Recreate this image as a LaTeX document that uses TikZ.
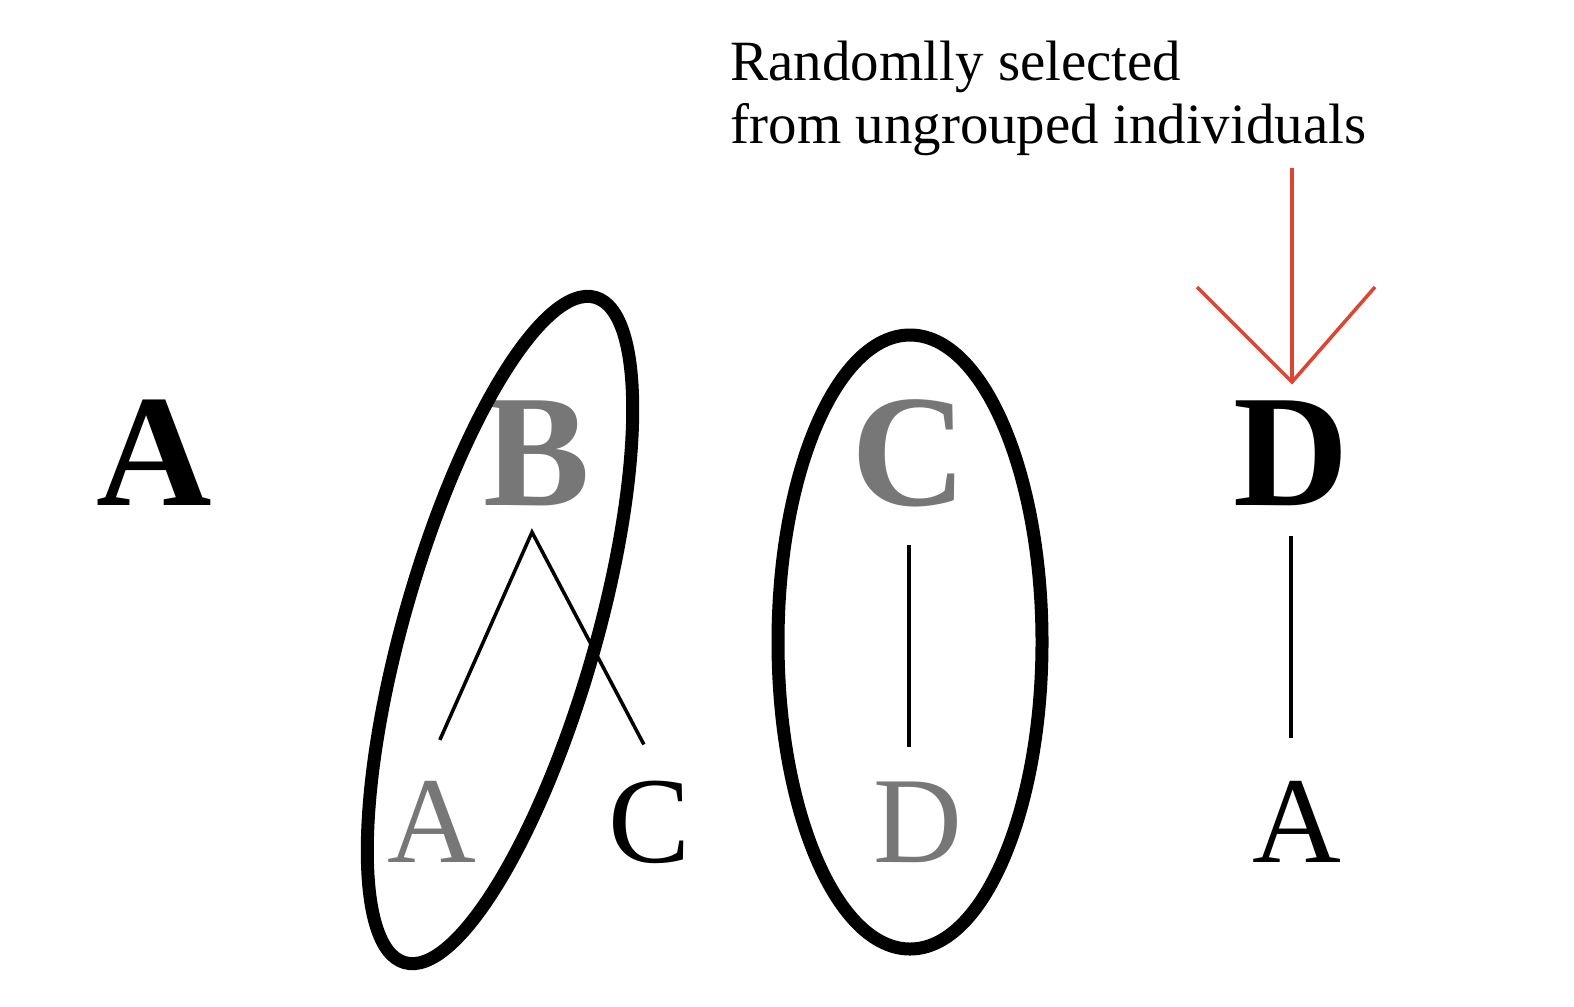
\documentclass[tikz,border=0pt]{standalone}
\usepackage{fontspec}
\setmainfont{Liberation Serif}
\usetikzlibrary{calc}
\definecolor{ltgray}{HTML}{777777}
\definecolor{selred}{RGB}{221,68,50}
\tikzset{
  bigletter/.style={anchor=base, inner sep=0pt, font=\fontsize{45.5}{50}\selectfont\bfseries},
  smallletter/.style={anchor=base, inner sep=0pt, font=\fontsize{35}{40}\selectfont},
  link/.style={line width=1pt},
  ring/.style={line width=3.7pt}
}
\begin{document}
\begin{tikzpicture}
	\useasboundingbox (0,0) rectangle (15.74,10.06);

	% individuals
	\node[bigletter] (A1) at (1.54,5.01) {A};
	\node[bigletter,ltgray] (B1) at (5.37,5.01) {B};
	\node[bigletter,ltgray] (C1) at (9.09,5.01) {C};
	\node[bigletter] (D1) at (12.91,5.01) {D};

	% partners
	\node[smallletter,ltgray] (A2) at (4.32,1.44) {A};
	\node[smallletter] (C2) at (6.50,1.44) {C};
	\node[smallletter,ltgray] (D2) at (9.18,1.44) {D};
	\node[smallletter] (A4) at (12.97,1.44) {A};

	\coordinate (fork) at ($(B1.south)+(-0.05,-0.26)$);
	\draw[link,shorten <=0.44cm,shorten >=0.40cm] ($(A2.north)+(-0.10,0)$) -- (fork) -- ($(C2.north)+(0.125,0)$);
	\draw[link,shorten <=0.38cm,shorten >=0.34cm] (C1.south) -- (C1.south |- D2.north);
	\draw[link,shorten <=0.30cm,shorten >=0.42cm] (D1.south) -- (D1.south |- A4.north);

	% groups
	\draw[ring,rotate around={74:(5.0,3.76)}] (5.0,3.76) ellipse (3.46 and 0.96);
	\draw[ring] (9.10,3.64) ellipse (1.32 and 3.07);

	% selection
	\node[anchor=north west,inner sep=0pt,align=left,font=\fontsize{16.2}{17.9}\selectfont] (note) at (7.30,9.66) {Randomlly selected\\from ungrouped individuals};
	\coordinate (sel) at (12.92,8.38);
	\coordinate (tip) at (12.92,6.24);
	\draw[selred,link] (sel) -- (tip);
	\draw[selred,link] (11.97,7.19) -- (tip) -- (13.75,7.19);
\end{tikzpicture}
\end{document}
